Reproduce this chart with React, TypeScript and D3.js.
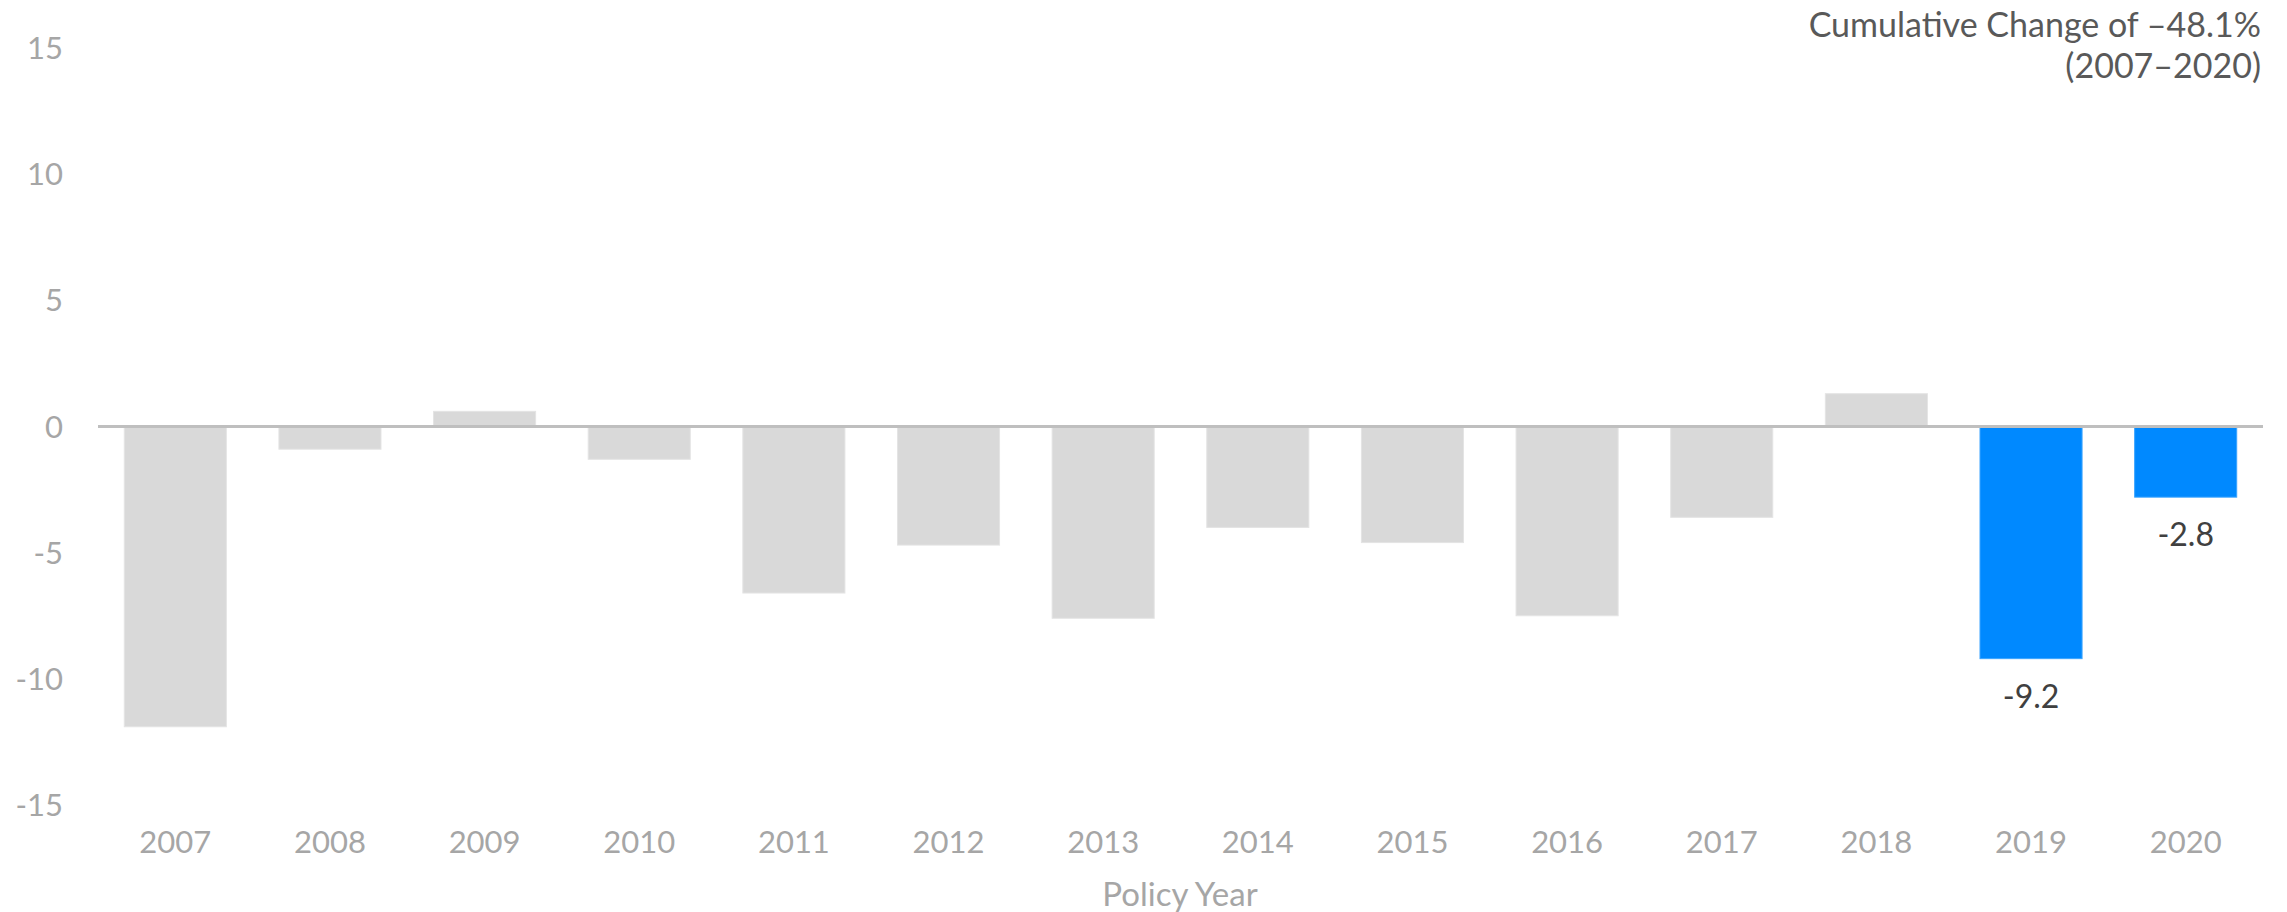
import React from "react";
import * as d3 from "d3";

// policy year change (%)
const years = ["2007", "2008", "2009", "2010", "2011", "2012", "2013", "2014", "2015", "2016", "2017", "2018", "2019", "2020"];
const changes = [-11.9, -0.9, 0.6, -1.3, -6.6, -4.7, -7.6, -4.0, -4.6, -7.5, -3.6, 1.3, -9.2, -2.8];
const highlighted = ["2019", "2020"];
const yTicks = [15, 10, 5, 0, -5, -10, -15];
const noteLines = ["Cumulative Change of \u201348.1%", "(2007\u20132020)"];

const W = 2287;
const H = 912;
const FONT = "Lato, 'Open Sans', sans-serif";

export default function App() {
  const x = d3
    .scaleBand<string>()
    .domain(years)
    .range([98, 2263])
    .paddingInner(0.34)
    .paddingOuter(0.17);

  const y = d3.scaleLinear().domain([-15, 15]).range([805, 48]);

  const data = years.map((yr, i) => ({ yr, v: changes[i] }));

  return (
    <svg
      width={W}
      height={H}
      style={{ position: "absolute", left: 0, top: 0, background: "#fff" }}
      fontFamily={FONT}
    >
      {/* y tick labels */}
      <g fill="#a6a6a6" fontSize={31} textAnchor="end">
        {yTicks.map((t) => (
          <text key={t} x={63} y={y(t)} dy="0.36em">
            {t}
          </text>
        ))}
      </g>

      {/* bars */}
      <g>
        {data.map((d) => {
          const hi = highlighted.includes(d.yr);
          const top = y(Math.max(0, d.v));
          const bot = y(Math.min(0, d.v));
          return (
            <rect
              key={d.yr}
              x={x(d.yr)}
              y={top}
              width={x.bandwidth()}
              height={bot - top}
              fill={hi ? "#0089ff" : "#d9d9d9"}
              stroke={hi ? "#3aa4ff" : "#e4e4e4"}
              strokeWidth={1}
            />
          );
        })}
      </g>

      {/* zero line */}
      <line x1={98} x2={2263} y1={y(0)} y2={y(0)} stroke="#bfbfbf" strokeWidth={3} />

      {/* data labels for highlighted years */}
      <g fill="#404040" fontSize={32} textAnchor="middle">
        {data
          .filter((d) => highlighted.includes(d.yr))
          .map((d) => (
            <text key={d.yr} x={(x(d.yr) as number) + x.bandwidth() / 2} y={y(Math.min(0, d.v)) + 49}>
              {d.v.toFixed(1)}
            </text>
          ))}
      </g>

      {/* x tick labels */}
      <g fill="#a6a6a6" fontSize={31} textAnchor="middle">
        {years.map((yr) => (
          <text key={yr} x={(x(yr) as number) + x.bandwidth() / 2} y={853}>
            {yr}
          </text>
        ))}
      </g>

      <text x={1180} y={906} fill="#a6a6a6" fontSize={33} textAnchor="middle">
        Policy Year
      </text>

      {/* annotation top right */}
      <g fill="#595959" fontSize={34} textAnchor="end">
        {noteLines.map((l, i) => (
          <text key={i} x={2261} y={37 + i * 41}>
            {l}
          </text>
        ))}
      </g>
    </svg>
  );
}
